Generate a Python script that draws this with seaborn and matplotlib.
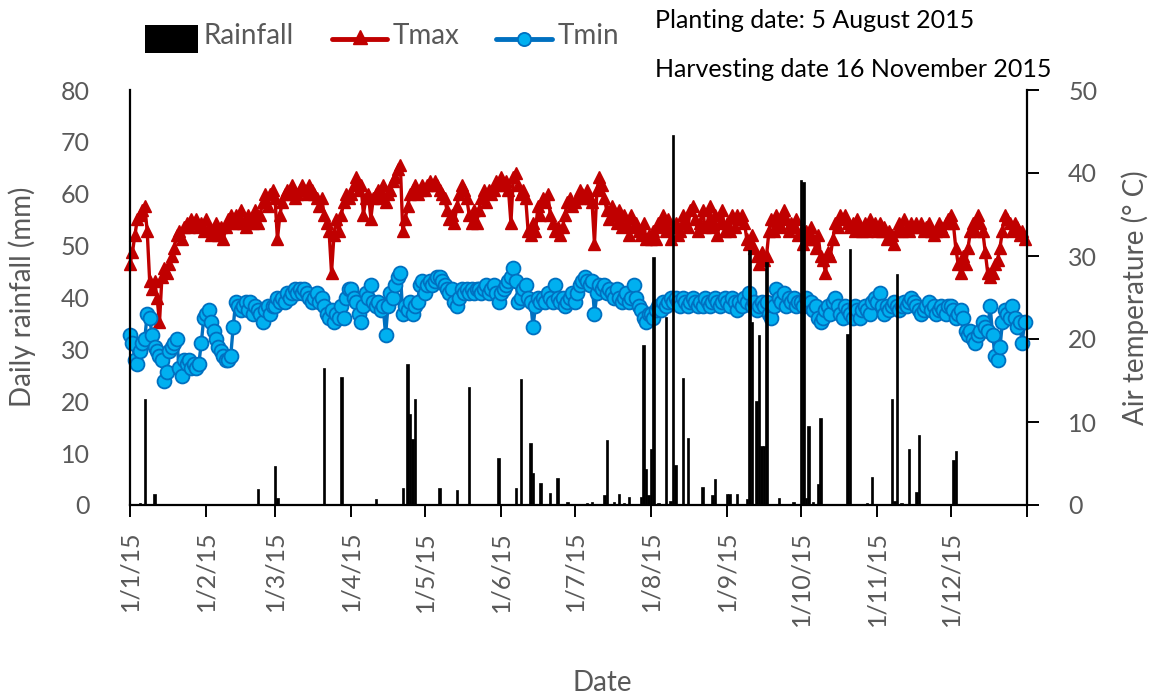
import matplotlib
matplotlib.use("Agg")
import matplotlib.pyplot as plt
from matplotlib.lines import Line2D
from matplotlib.patches import Rectangle
import numpy as np
import pandas as pd
import seaborn as sns

# ---------------- data ----------------
month_labels = ["1/1/15", "1/2/15", "1/3/15", "1/4/15", "1/5/15", "1/6/15",
                "1/7/15", "1/8/15", "1/9/15", "1/10/15", "1/11/15", "1/12/15"]
month_days = [31, 28, 31, 30, 31, 30, 31, 31, 30, 31, 30, 31]

tmax_jan = [29.0, 30.5, 32.5, 34.5, 35.0, 35.5, 36.0, 33.0, 27.0, 26.0, 27.0, 25.0, 22.0, 27.5, 28.5, 28.0,
            29.0, 30.0, 31.0, 32.5, 33.0, 32.0, 33.5, 34.0, 33.5, 34.5, 34.0, 34.5, 33.5, 34.0, 33.0]
tmax_feb = [34.5, 33.5, 32.5, 33.0, 34.0, 32.5, 33.5, 32.0, 33.5, 34.5, 35.0, 34.0, 35.0, 34.0, 35.5, 34.0,
            33.5, 35.0, 34.5, 34.0, 35.5, 34.0, 35.0, 36.5, 37.5, 36.0, 37.5, 38.0]
tmax_mar = [37.0, 32.0, 35.0, 36.5, 37.5, 38.0, 37.5, 38.5, 37.0, 37.5, 38.0, 38.5, 38.0, 37.5, 38.5, 38.0,
            37.5, 37.0, 36.0, 37.0, 35.0, 34.0, 33.0, 28.0, 32.5, 34.5, 33.0, 35.0, 36.5, 37.5, 37.0]
tmax_apr = [37.5, 38.5, 39.5, 38.0, 38.5, 35.0, 37.0, 37.5, 34.5, 37.0, 37.5, 38.0, 37.0, 38.5, 36.5, 37.5,
            38.0, 39.0, 39.5, 40.5, 41.0, 33.0, 34.5, 36.0, 37.5, 38.0, 38.5, 37.5, 38.0, 38.5]
tmax_may = [38.0, 38.5, 39.0, 38.5, 39.0, 38.5, 38.0, 37.5, 37.0, 35.5, 34.5, 35.0, 34.0, 36.0, 37.5, 38.5,
            38.0, 37.0, 35.0, 34.0, 35.5, 34.0, 35.5, 37.0, 38.0, 36.5, 38.0, 37.5, 38.0, 39.0, 38.5]
tmax_jun = [39.5, 38.5, 39.0, 38.0, 34.0, 39.5, 40.0, 38.5, 37.5, 38.0, 37.0, 33.0, 32.5, 34.0, 33.0, 36.0,
            35.0, 37.0, 36.5, 37.5, 35.0, 34.0, 33.0, 33.5, 32.5, 33.5, 35.0, 36.5, 37.0, 36.0]
tmax_jul = [36.5, 37.0, 38.0, 37.5, 37.0, 38.0, 37.0, 36.5, 31.5, 38.0, 39.5, 38.5, 37.0, 35.5, 34.5, 36.0,
            35.0, 34.0, 35.5, 33.5, 35.0, 34.0, 32.5, 35.0, 33.5, 34.0, 33.0, 32.5, 34.0, 32.0, 32.5]
tmax_aug = [32.0, 33.0, 32.0, 34.0, 33.5, 35.0, 33.0, 34.5, 32.0, 33.5, 34.0, 32.5, 33.0, 35.0, 34.0, 33.5,
            35.5, 36.0, 34.5, 33.0, 34.0, 35.5, 33.5, 34.0, 36.0, 33.5, 35.0, 32.5, 34.0, 35.5, 33.0]
tmax_sep = [34.0, 33.0, 35.0, 33.5, 35.0, 34.5, 35.0, 34.0, 32.0, 31.5, 32.5, 31.0, 30.0, 29.0, 30.5, 29.5,
            30.0, 33.0, 34.5, 33.0, 35.0, 34.0, 33.5, 35.5, 34.5, 33.0, 34.0, 33.5, 34.5, 32.5]
tmax_oct = [33.0, 31.5, 33.0, 32.0, 33.5, 32.0, 31.0, 32.5, 30.0, 29.5, 28.0, 30.5, 30.0, 32.0, 34.0, 33.5,
            35.0, 34.5, 35.0, 34.0, 33.5, 34.0, 33.0, 34.5, 33.5, 33.0, 34.0, 33.0, 34.5, 33.5, 34.0]
tmax_nov = [33.0, 34.0, 33.0, 33.5, 32.0, 33.0, 32.5, 31.5, 33.0, 34.0, 33.0, 34.5, 33.5, 33.0, 34.0, 33.5,
            34.0, 33.5, 34.0, 33.0, 33.5, 34.0, 33.0, 32.5, 33.0, 34.0, 33.5, 33.0, 34.0, 34.5]
tmax_dec = [35.0, 34.0, 31.0, 29.0, 28.0, 30.0, 29.0, 31.0, 33.0, 34.0, 33.0, 35.0, 34.0, 33.0, 30.5, 28.0,
            27.5, 28.0, 29.0, 29.5, 31.0, 33.0, 35.0, 34.5, 34.0, 33.0, 34.0, 33.5, 32.5, 33.0, 32.0]

tmin_jan = [20.5, 19.5, 17.5, 17.0, 18.5, 19.5, 20.0, 23.0, 22.5, 20.5, 19.0, 18.5, 18.0, 17.5, 15.0, 16.0,
            18.5, 19.0, 19.5, 20.0, 16.5, 15.5, 17.5, 17.0, 17.5, 16.5, 17.0, 16.5, 17.0, 19.5, 22.5]
tmin_feb = [23.0, 23.5, 22.0, 21.0, 20.0, 19.0, 18.5, 18.0, 17.5, 17.5, 18.0, 21.5, 24.5, 24.0, 23.5, 24.0,
            24.5, 23.5, 24.5, 23.0, 24.0, 23.5, 23.0, 22.0, 23.5, 24.0, 23.0, 24.0]
tmin_mar = [24.0, 25.0, 24.5, 25.0, 24.5, 25.5, 25.0, 25.5, 26.0, 25.5, 26.0, 25.5, 26.0, 25.5, 25.0, 24.5,
            25.0, 25.5, 24.5, 25.0, 24.0, 23.0, 22.5, 23.5, 22.0, 23.0, 22.5, 24.0, 22.5, 25.0, 26.0]
tmin_apr = [26.0, 25.0, 24.5, 23.0, 22.0, 24.0, 25.5, 25.0, 26.5, 24.5, 24.0, 24.5, 23.5, 24.0, 20.5, 24.0,
            25.5, 25.0, 26.5, 27.5, 28.0, 23.0, 24.0, 23.5, 24.5, 23.0, 24.0, 24.5, 26.5, 27.0]
tmin_may = [25.5, 26.5, 27.0, 26.5, 27.0, 27.5, 27.5, 27.0, 26.5, 26.0, 25.5, 26.0, 24.5, 24.0, 25.0, 26.0,
            25.5, 26.0, 25.5, 26.0, 25.5, 26.0, 26.0, 25.5, 26.0, 26.5, 25.5, 26.0, 26.5, 25.5, 24.5]
tmin_jun = [25.5, 26.0, 26.5, 27.0, 27.5, 28.5, 27.0, 24.5, 25.0, 26.0, 26.5, 25.0, 24.5, 21.5, 24.0, 25.0,
            24.5, 25.0, 24.5, 25.5, 25.0, 24.5, 26.5, 25.0, 24.5, 25.0, 24.0, 24.5, 25.0, 25.5]
tmin_jul = [24.5, 25.5, 26.5, 27.0, 27.5, 27.0, 26.5, 27.0, 23.0, 25.5, 26.5, 26.0, 26.5, 25.5, 26.0, 25.5,
            25.0, 26.0, 25.0, 24.5, 25.0, 25.5, 24.5, 25.0, 26.5, 25.0, 24.0, 23.5, 22.5, 22.0, 23.0]
tmin_aug = [23.0, 22.5, 23.5, 24.0, 23.5, 24.5, 24.0, 24.5, 25.0, 24.5, 25.0, 24.5, 24.0, 25.0, 24.5, 24.0,
            24.5, 25.0, 24.5, 24.0, 24.5, 24.0, 25.0, 24.5, 24.0, 24.5, 25.0, 24.5, 24.0, 24.5, 25.0]
tmin_sep = [24.5, 24.0, 25.0, 24.5, 23.5, 24.5, 24.0, 25.0, 24.5, 25.5, 24.0, 24.5, 23.5, 24.0, 24.5, 24.0,
            24.5, 23.0, 22.5, 24.0, 26.0, 25.0, 24.5, 25.5, 24.0, 25.0, 24.5, 25.0, 24.0, 24.5]
tmin_oct = [24.5, 24.0, 25.0, 24.0, 24.5, 23.5, 24.0, 22.5, 22.0, 22.5, 23.5, 24.0, 23.0, 24.5, 25.0, 24.0,
            23.0, 22.5, 24.0, 23.5, 23.0, 22.5, 24.0, 23.5, 22.5, 23.5, 24.0, 23.5, 23.0, 24.5, 25.0]
tmin_nov = [24.5, 25.5, 24.0, 23.0, 24.0, 23.5, 24.0, 24.5, 24.0, 23.5, 24.0, 24.5, 24.0, 24.5, 25.0, 24.5,
            24.0, 23.5, 23.0, 23.5, 24.0, 24.5, 23.5, 24.0, 23.0, 23.5, 24.0, 23.5, 23.0, 24.0]
tmin_dec = [24.0, 23.5, 22.5, 23.0, 23.5, 22.5, 21.0, 20.5, 21.0, 20.0, 19.5, 20.5, 21.0, 22.0, 21.5, 21.0,
            24.0, 20.5, 18.0, 17.5, 19.0, 22.0, 23.5, 23.0, 22.5, 24.0, 22.5, 21.5, 22.0, 19.5, 22.0]

# rainy days (day of year, 0 = 1 Jan) and daily rainfall (mm)
rain_day = [4, 6, 10, 29, 52, 59, 60, 79, 86, 100, 111, 113, 114, 115, 116, 126, 133, 138, 150, 157,
            159, 163, 164, 167, 171, 174, 178, 186, 188, 193, 194, 197, 199, 201, 203, 208, 209, 210, 211, 212,
            213, 215, 218, 220, 221, 222, 225, 227, 233, 237, 238, 243, 244, 247, 251, 252, 253, 255, 256, 257,
            258, 259, 264, 270, 273, 274, 275, 276, 278, 280, 281, 292, 293, 300, 302, 310, 311, 312, 314, 317,
            320, 321, 335, 336]
rain_mm = [0.3, 20.5, 2.2, 0.2, 3.0, 7.5, 1.4, 26.5, 24.7, 1.1, 3.3, 27.2, 17.6, 12.8, 20.5, 3.2, 2.9, 22.7, 9.1, 3.3,
           24.2, 12.0, 6.2, 4.2, 2.4, 5.2, 0.5, 0.3, 0.5, 2.0, 12.5, 0.6, 2.2, 0.3, 1.6, 1.5, 30.9, 7.0, 1.9, 10.8,
           47.8, 0.4, 36.3, 0.8, 71.4, 7.7, 24.4, 13.0, 3.5, 1.9, 5.0, 2.2, 2.1, 2.2, 1.1, 49.1, 35.3, 20.1, 32.8, 11.3,
           11.3, 46.8, 1.4, 0.5, 62.7, 62.2, 1.4, 15.2, 0.6, 4.0, 16.8, 33.0, 49.4, 0.3, 5.4, 20.5, 0.8, 44.6, 0.4, 10.8,
           2.6, 13.4, 8.6, 10.4]

# ---------------- assemble ----------------
tmax = (tmax_jan + tmax_feb + tmax_mar + tmax_apr + tmax_may + tmax_jun +
        tmax_jul + tmax_aug + tmax_sep + tmax_oct + tmax_nov + tmax_dec)
tmin = (tmin_jan + tmin_feb + tmin_mar + tmin_apr + tmin_may + tmin_jun +
        tmin_jul + tmin_aug + tmin_sep + tmin_oct + tmin_nov + tmin_dec)
n_days = sum(month_days)
rain = np.zeros(n_days)
rain[rain_day] = rain_mm
df = pd.DataFrame({"day": np.arange(n_days), "tmax": tmax, "tmin": tmin, "rain": rain})
month_starts = list(np.cumsum([0] + month_days[:-1]))

# ---------------- style ----------------
sns.set_theme(style="white")
plt.rcParams["font.family"] = ["Lato", "DejaVu Sans"]
plt.rcParams["font.weight"] = "normal"
GREY = "#595959"

W, H = 1160, 700
fig = plt.figure(figsize=(W / 100, H / 100), dpi=100)
fig.patch.set_facecolor("white")
ax = fig.add_axes([130 / W, 1 - 505 / H, (1027 - 130) / W, (505 - 90) / H])
ax2 = ax.twinx()

# temperatures (right axis)
sns.lineplot(data=df, x="day", y="tmax", ax=ax2, color="#C00000", linewidth=2.4,
             marker="^", markersize=9, markerfacecolor="#C00000", markeredgecolor="#C00000",
             markeredgewidth=1, clip_on=False)
sns.lineplot(data=df, x="day", y="tmin", ax=ax2, color="#0070C0", linewidth=2.4,
             marker="o", markersize=10, markerfacecolor="#00B0F0", markeredgecolor="#0070C0",
             markeredgewidth=1.3, clip_on=False)

# rainfall (left axis), drawn above the temperature lines
sns.barplot(data=df, x="day", y="rain", ax=ax, color="black", saturation=1,
            native_scale=True, width=1.0, errorbar=None, linewidth=0.5, edgecolor="black")

ax.set_zorder(ax2.get_zorder() + 1)
ax.patch.set_visible(False)

ax.set_xlim(0, n_days)
ax.set_ylim(0, 80)
ax2.set_ylim(0, 50)
ax.set_yticks(range(0, 81, 10))
ax2.set_yticks(range(0, 51, 10))
ax.set_xticks(month_starts + [n_days])
ax.set_xticklabels(month_labels + [""])
ax.set_xlabel("")
ax.set_ylabel("")
ax2.set_ylabel("")
ax2.set_xlabel("")

ax.tick_params(axis="x", bottom=True, direction="out", length=8.6, width=1.4, color="black",
               pad=10, labelsize=18, labelcolor=GREY, labelrotation=90)
ax.tick_params(axis="y", left=False, length=0, pad=29, labelsize=18, labelcolor=GREY)
ax2.tick_params(axis="y", right=True, direction="out", length=8.6, width=1.4, color="black",
                pad=21, labelsize=18, labelcolor=GREY)

for s in ["top", "right"]:
    ax.spines[s].set_visible(False)
for s in ["top", "left", "bottom"]:
    ax2.spines[s].set_visible(False)
for sp in [ax.spines["left"], ax.spines["bottom"], ax2.spines["right"]]:
    sp.set_color("black")
    sp.set_linewidth(1.6)

# axis titles
fig.text(22 / W, 1 - 297 / H, "Daily rainfall (mm)", rotation=90, ha="center", va="center",
         fontsize=20, color=GREY)
fig.text(1135 / W, 1 - 298 / H, "Air temperature (° C)", rotation=90, ha="center", va="center",
         fontsize=20, color=GREY)
fig.text(602 / W, 1 - 683 / H, "Date", ha="center", va="center", fontsize=20, color=GREY)

# legend (drawn manually to match the layout)
fig.add_artist(Rectangle((145 / W, 1 - 53 / H), 53 / W, 28 / H, transform=fig.transFigure,
                         facecolor="black", edgecolor="none"))
fig.text(203 / W, 1 - 44 / H, "Rainfall", fontsize=20, color=GREY, va="baseline")
fig.add_artist(Line2D([332 / W, 387 / W], [1 - 39 / H] * 2, transform=fig.transFigure,
                      color="#C00000", lw=3.5, solid_capstyle="round"))
fig.add_artist(Line2D([359.5 / W], [1 - 37 / H], transform=fig.transFigure, marker="^",
                      markersize=9.5, color="#C00000", linestyle="none"))
fig.text(393 / W, 1 - 44 / H, "Tmax", fontsize=20, color=GREY, va="baseline")
fig.add_artist(Line2D([496 / W, 552 / W], [1 - 39 / H] * 2, transform=fig.transFigure,
                      color="#0070C0", lw=3.5, solid_capstyle="round"))
fig.add_artist(Line2D([524 / W], [1 - 39 / H], transform=fig.transFigure, marker="o",
                      markersize=9.5, markerfacecolor="#00B0F0", markeredgecolor="#0070C0",
                      markeredgewidth=1.3, linestyle="none"))
fig.text(558 / W, 1 - 44 / H, "Tmin", fontsize=20, color=GREY, va="baseline")

# annotations
fig.text(655 / W, 1 - 28 / H, "Planting date: 5 August 2015", fontsize=18, color="black",
         va="baseline")
fig.text(655 / W, 1 - 77 / H, "Harvesting date 16 November 2015", fontsize=18, color="black",
         va="baseline")

fig.savefig("out.png", dpi=100, facecolor="white")
